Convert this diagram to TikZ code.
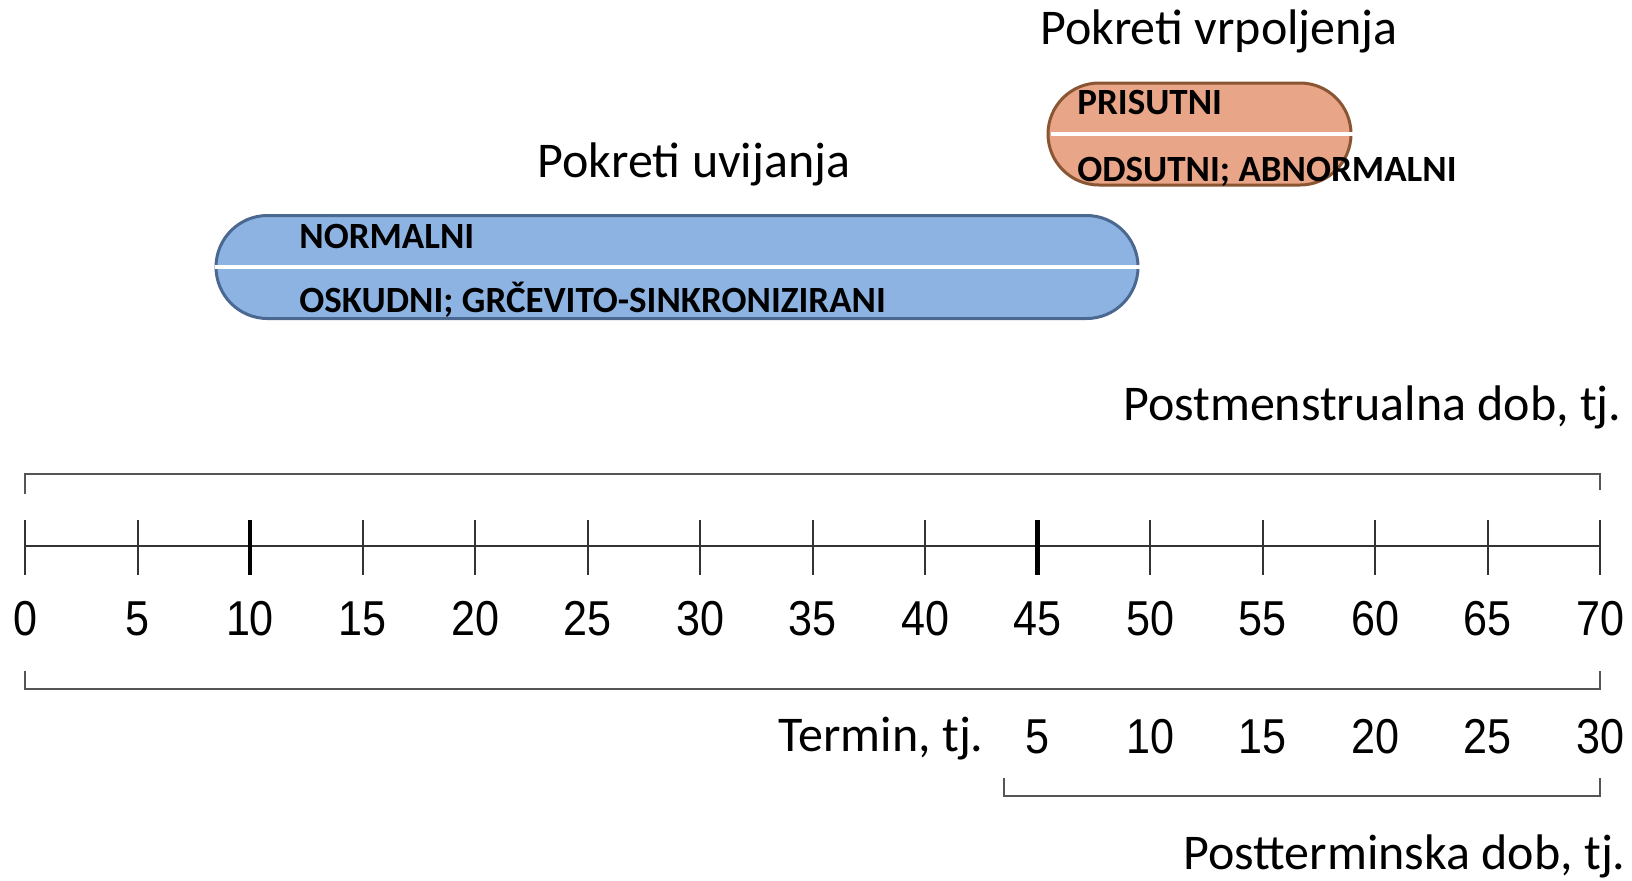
\documentclass[tikz,border=0pt]{standalone}
\usepackage{fontspec}
\setmainfont{Carlito}
\newfontfamily\numfont[FakeStretch=0.88]{Liberation Sans}
\usetikzlibrary{positioning,shapes.misc}
\definecolor{pillblue}{HTML}{8DB3E2}
\definecolor{pillblueline}{HTML}{4A6890}
\definecolor{pillorange}{HTML}{E8A587}
\definecolor{pillorangeline}{HTML}{8A5533}
\definecolor{brkgray}{HTML}{555555}
\tikzset{
  pill/.style={rounded rectangle,draw,line width=1.5pt,inner sep=0pt},
  title/.style={anchor=base,inner sep=0pt,font=\fontsize{25}{30}\selectfont},
  lbl/.style={anchor=base west,inner sep=0pt,font=\bfseries\fontsize{18.5}{22}\selectfont},
  num/.style={inner sep=0pt,font=\numfont\fontsize{24.5}{28}\selectfont},
  brk/.style={draw=brkgray,line width=1.3pt},
  tick/.style={draw=black!80,line width=1pt}
}

\begin{document}
\begin{tikzpicture}[x=0.5pt,y=-0.5pt]
\useasboundingbox (0,0) rectangle (1632,880);
% \draw[help lines] (0,0) grid (1632,880);
\node (uv) [pill,draw=pillblueline,fill=pillblue,minimum width=461pt,minimum height=51.5pt] at (677,267) {};
\node (vr) [pill,draw=pillorangeline,fill=pillorange,minimum width=151.5pt,minimum height=51pt] at (1199.5,134) {};
\draw[white,line width=1.6pt] (uv.west) -- (uv.east);
\draw[white,line width=1.6pt] ([xshift=2pt]vr.west) -- (vr.east);
%
\node (uvt) [title] at (694,177) {Pokreti uvijanja};
\node (vrt) [title] at (1219,44) {Pokreti vrpoljenja};
\node (norm) [lbl] at (299,248) {NORMALNI};
\node (osk) [lbl] at (299,312) {OSKUDNI; GRČEVITO-SINKRONIZIRANI};
\node (pris) [lbl] at (1077,114.5) {PRISUTNI};
\node (ods) [lbl] at (1077,181) {ODSUTNI; ABNORMALNI};
%
\node (pm) [title,anchor=base east] at (1622,420.5) {Postmenstrualna dob, tj.};
\node (ter) [title,anchor=base east] at (984,751.5) {Termin, tj.};
\node (pt) [title,anchor=base east] at (1626,869) {Postterminska dob, tj.};
%
\draw[brk] (25,494) -- (25,474) -- (1600,474) -- (1600,490);
\draw[brk] (25,671) -- (25,689) -- (1600,689) -- (1600,671);
\draw[brk] (1004,778) -- (1004,796) -- (1600,796) -- (1600,778);
%
\draw[tick] (25,546) -- (1600,546);
\foreach \v in {0,5,...,70}{
  \draw[tick] (25+22.5*\v,520) -- (25+22.5*\v,575);
  \node (m\v) [num] at (25+22.5*\v,619) {\v};
}
\draw[tick,line width=2.4pt,draw=black] (250,520) -- (250,575);
\draw[tick,line width=2.4pt,draw=black] (1037.5,520) -- (1037.5,575);
\foreach \w in {5,10,...,30}
  \node (p\w) [num] at (25+22.5*\w+900,737) {\w};
\end{tikzpicture}
\end{document}
